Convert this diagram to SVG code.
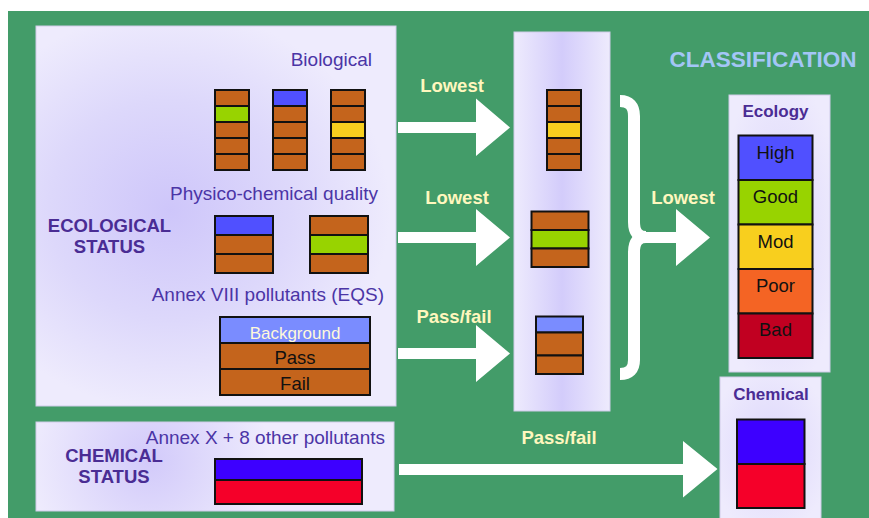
<svg xmlns="http://www.w3.org/2000/svg" width="869" height="518" viewBox="0 0 869 518">
<style>
.lbl{font-family:"Liberation Sans",Arial,sans-serif;font-size:19px;fill:#4B35A6}
.bold{font-family:"Liberation Sans",Arial,sans-serif;font-weight:bold;fill:#4A2C94}
.arrlbl{font-family:"Liberation Sans",Arial,sans-serif;font-weight:bold;font-size:18.5px;fill:#FFF7BE;text-anchor:middle}
.cell{stroke:#111;stroke-width:2}
.br{fill:#C4641C}
.gr{fill:#98D300}
.bl{fill:#5050FF}
.ye{fill:#F8CF1E}
.lb{fill:#7A8CFF}
.or{fill:#F46424}
.rd{fill:#C10021}
.cb{fill:#3D00FF}
.cr{fill:#F50029}
.scale{font-family:"Liberation Sans",Arial,sans-serif;font-size:18.5px;fill:#111;text-anchor:middle}
.arrow{fill:#fff}
</style>
<defs>
<radialGradient id="gMain" cx="170" cy="210" r="200" gradientUnits="userSpaceOnUse" gradientTransform="translate(170 210) scale(1.1 1) translate(-170 -210)">
<stop offset="0" stop-color="#CEC6FA"/>
<stop offset="0.55" stop-color="#DDD8FB"/>
<stop offset="1" stop-color="#EEEBFD"/>
</radialGradient>
<radialGradient id="gChem" cx="150" cy="460" r="120" gradientUnits="userSpaceOnUse">
<stop offset="0" stop-color="#D2CAFA"/>
<stop offset="1" stop-color="#EEEBFD"/>
</radialGradient>
<linearGradient id="gMid" x1="0" y1="0" x2="1" y2="0">
<stop offset="0" stop-color="#EEEBFD"/>
<stop offset="0.5" stop-color="#D3CCFB"/>
<stop offset="1" stop-color="#EEEBFD"/>
</linearGradient>
<radialGradient id="gSmall" cx="0.5" cy="0.5" r="0.6">
<stop offset="0" stop-color="#DCD6FB"/>
<stop offset="1" stop-color="#EEEBFD"/>
</radialGradient>
</defs>

<rect x="8" y="11" width="861" height="507" fill="#439C69"/>

<g id="ecological-status">
<rect x="36" y="26" width="360" height="380" fill="url(#gMain)" stroke="#CFCBE8" stroke-width="1"/>
<text class="bold" x="109.5" y="232" font-size="18.5" text-anchor="middle">ECOLOGICAL</text>
<text class="bold" x="109.5" y="253" font-size="18.5" text-anchor="middle">STATUS</text>
</g>

<g id="biological">
<text class="lbl" x="372" y="66" text-anchor="end" font-size="18.5">Biological</text>
<g class="cell">
<rect class="br" x="215" y="90" width="34" height="16"/>
<rect class="gr" x="215" y="106" width="34" height="16"/>
<rect class="br" x="215" y="122" width="34" height="16"/>
<rect class="br" x="215" y="138" width="34" height="16"/>
<rect class="br" x="215" y="154" width="34" height="16"/>
<rect class="bl" x="273" y="90" width="34" height="16"/>
<rect class="br" x="273" y="106" width="34" height="16"/>
<rect class="br" x="273" y="122" width="34" height="16"/>
<rect class="br" x="273" y="138" width="34" height="16"/>
<rect class="br" x="273" y="154" width="34" height="16"/>
<rect class="br" x="331" y="90" width="34" height="16"/>
<rect class="br" x="331" y="106" width="34" height="16"/>
<rect class="ye" x="331" y="122" width="34" height="16"/>
<rect class="br" x="331" y="138" width="34" height="16"/>
<rect class="br" x="331" y="154" width="34" height="16"/>
</g>
</g>

<g id="physico-chemical">
<text class="lbl" x="378" y="200" text-anchor="end">Physico-chemical quality</text>
<g class="cell">
<rect class="bl" x="215" y="216" width="58" height="19"/>
<rect class="br" x="215" y="235" width="58" height="19"/>
<rect class="br" x="215" y="254" width="58" height="19"/>
<rect class="br" x="310" y="216" width="58" height="19"/>
<rect class="gr" x="310" y="235" width="58" height="19"/>
<rect class="br" x="310" y="254" width="58" height="19"/>
</g>
</g>

<g id="annex-viii">
<text class="lbl" x="384" y="301" text-anchor="end">Annex VIII pollutants (EQS)</text>
<g class="cell">
<rect class="lb" x="220" y="317" width="150" height="26"/>
<text x="295" y="338.5" font-family="Liberation Sans, Arial, sans-serif" font-size="17" fill="#FFF9DA" text-anchor="middle" stroke="none">Background</text>
<rect class="br" x="220" y="343" width="150" height="26"/>
<rect class="br" x="220" y="369" width="150" height="26"/>
</g>
<text class="scale" x="295" y="363.5" font-size="17">Pass</text>
<text class="scale" x="295" y="389.5" font-size="17">Fail</text>
</g>

<g id="chemical-status">
<rect x="36" y="422" width="358" height="89" fill="url(#gChem)" stroke="#CFCBE8" stroke-width="1"/>
<text class="lbl" x="385" y="444" text-anchor="end">Annex X + 8 other pollutants</text>
<text class="bold" x="114" y="462" font-size="18.5" text-anchor="middle">CHEMICAL</text>
<text class="bold" x="114" y="483" font-size="18.5" text-anchor="middle">STATUS</text>
<g class="cell">
<rect class="cb" x="215" y="459" width="147" height="21"/>
<rect class="cr" x="215" y="480" width="147" height="24"/>
</g>
</g>

<g id="results">
<rect x="514" y="32" width="96" height="379" fill="url(#gMid)" stroke="#CFCBE8" stroke-width="1"/>
<g class="cell">
<rect class="br" x="547" y="90" width="34" height="16"/>
<rect class="br" x="547" y="106" width="34" height="16"/>
<rect class="ye" x="547" y="122" width="34" height="16"/>
<rect class="br" x="547" y="138" width="34" height="16"/>
<rect class="br" x="547" y="154" width="34" height="16"/>
<rect class="br" x="531.5" y="211.5" width="57" height="18.5"/>
<rect class="gr" x="531.5" y="230" width="57" height="18.5"/>
<rect class="br" x="531.5" y="248.5" width="57" height="18.5"/>
<rect class="lb" x="536" y="316.5" width="47" height="16"/>
<rect class="br" x="536" y="332.5" width="47" height="23"/>
<rect class="br" x="536" y="355.5" width="47" height="18.5"/>
</g>
</g>

<text class="bold" x="763" y="67" font-size="22.5" text-anchor="middle" style="fill:#A3C6F6">CLASSIFICATION</text>

<g id="ecology">
<rect x="729" y="95" width="101" height="277" fill="url(#gSmall)" stroke="#CFCBE8" stroke-width="1"/>
<text class="bold" x="775.5" y="117" font-size="17" text-anchor="middle">Ecology</text>
<g class="cell">
<rect class="bl" x="738.5" y="135.5" width="74" height="44.5"/>
<rect class="gr" x="738.5" y="180" width="74" height="44.5"/>
<rect class="ye" x="738.5" y="224.5" width="74" height="44.5"/>
<rect class="or" x="738.5" y="269" width="74" height="44.5"/>
<rect class="rd" x="738.5" y="313.5" width="74" height="44.5"/>
</g>
<text class="scale" x="775.5" y="158.5">High</text>
<text class="scale" x="775.5" y="203">Good</text>
<text class="scale" x="775.5" y="247.5">Mod</text>
<text class="scale" x="775.5" y="291.5">Poor</text>
<text class="scale" x="775.5" y="335.5">Bad</text>
</g>

<g id="chemical">
<rect x="720" y="377" width="101" height="145" fill="url(#gSmall)" stroke="#CFCBE8" stroke-width="1"/>
<text class="bold" x="771" y="400" font-size="17" text-anchor="middle">Chemical</text>
<g class="cell">
<rect class="cb" x="737" y="419.5" width="67.5" height="44.5"/>
<rect class="cr" x="737" y="464" width="67.5" height="44"/>
</g>
</g>

<g id="connectors">
<polygon class="arrow" points="398,122 476,122 476,98.5 510,127.5 476,156 476,133 398,133"/>
<polygon class="arrow" points="398,232 476,232 476,209 510,237.5 476,266 476,243 398,243"/>
<polygon class="arrow" points="398,348 476,348 476,325 510,353.5 476,382 476,359 398,359"/>
<polygon class="arrow" points="399,464 683,464 683,441 717.5,469 683,497.5 683,475 399,475"/>
<path d="M620,101 Q634,101 634,116 L634,222 Q634,237 646,237 Q634,237 634,252 L634,360 Q634,374 620,374" fill="none" stroke="#fff" stroke-width="12"/>
<polygon class="arrow" points="640,232 676,232 676,209 710,237.5 676,266 676,243 640,243"/>
<text class="arrlbl" x="452" y="92">Lowest</text>
<text class="arrlbl" x="457" y="203.5">Lowest</text>
<text class="arrlbl" x="454" y="323">Pass/fail</text>
<text class="arrlbl" x="683" y="203.5">Lowest</text>
<text class="arrlbl" x="559" y="444">Pass/fail</text>
</g>
</svg>
